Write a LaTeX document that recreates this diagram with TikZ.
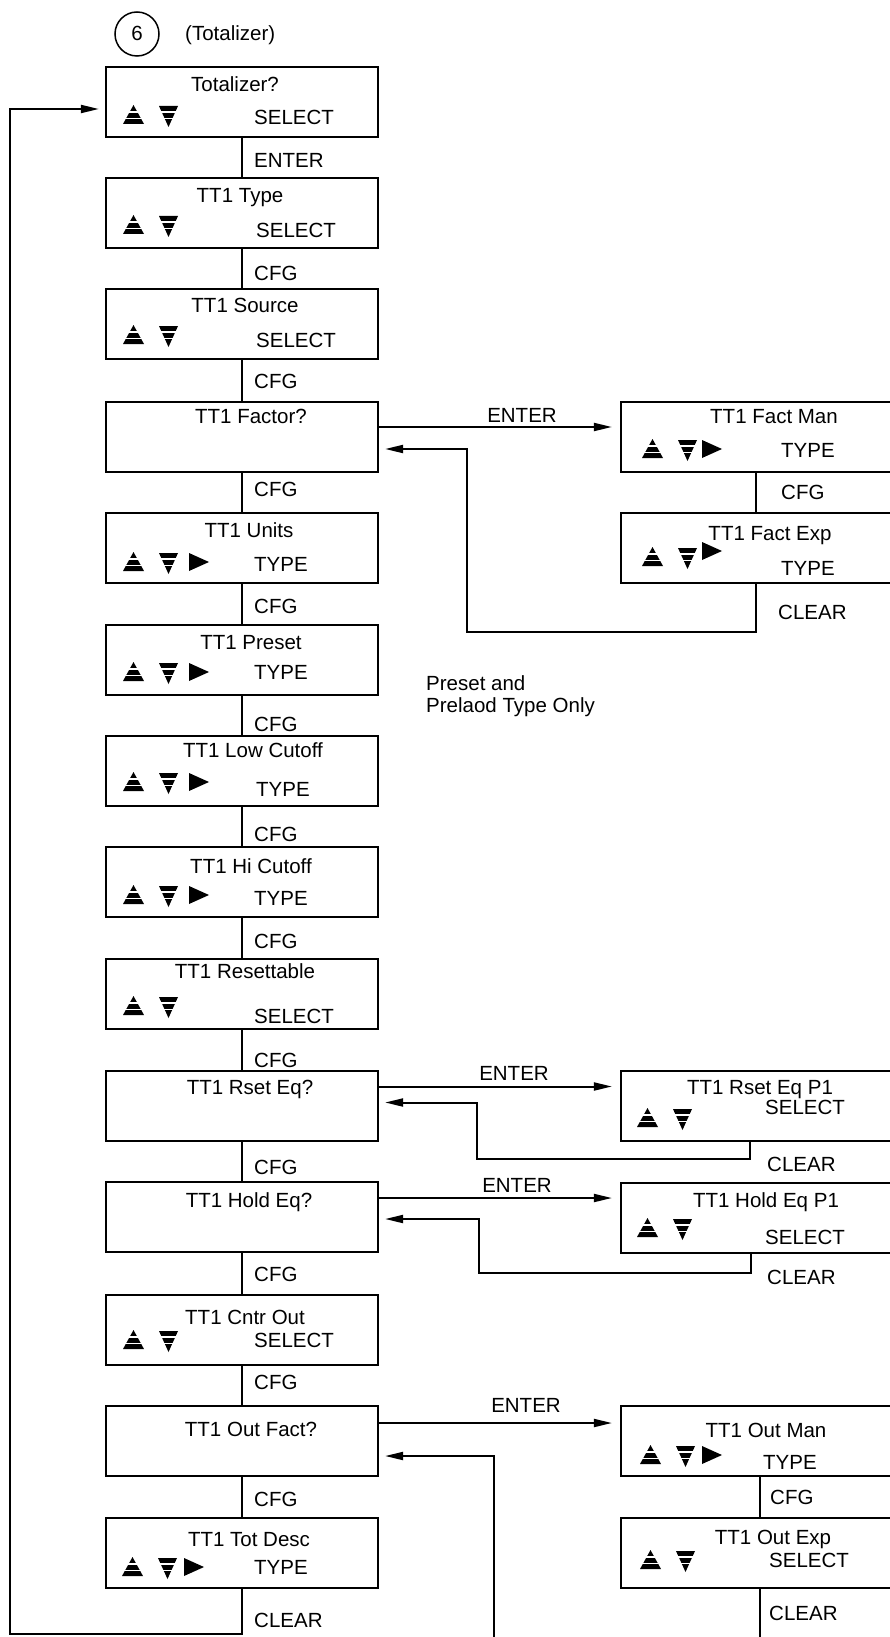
\documentclass[tikz,border=0pt]{standalone}
\usepackage{fontspec}
\setmainfont{Liberation Sans}
\usetikzlibrary{arrows.meta,calc}
\newcommand\updown[2]{%
  \begin{scope}[shift={(#1,#2)}]
    \fill (0,9) -- (21,9) -- (10.5,-10) -- cycle;
    \draw[white,line width=1.3pt] (0,-3) -- (21,-3) (0,3.5) -- (21,3.5);
    \fill (36,-9) -- (55,-9) -- (45.5,12) -- cycle;
    \draw[white,line width=1.3pt] (36,-3) -- (55,-3) (36,3.5) -- (55,3.5);
  \end{scope}}
\newcommand\playicon[2]{%
  \begin{scope}[shift={(#1,#2)}]
    \fill (66,-9) -- (66,9) -- (86,0) -- cycle;
  \end{scope}}
\begin{document}
\begin{tikzpicture}[x=1pt,y=-1pt,
  every node/.style={font=\fontsize{20.5}{24}\selectfont, inner sep=0pt, text height=14.7pt, text depth=0pt},
  box/.style={draw, line width=2.2pt, minimum width=272pt, minimum height=70pt},
  rbox/.style={draw, line width=2.2pt, minimum width=274pt, minimum height=70pt},
  conn/.style={line width=2pt},
  arr/.style={line width=2pt, -{Triangle[length=18pt,width=8pt]}, shorten >=6pt},
  lbl/.style={anchor=west}]
\useasboundingbox (0,0) rectangle (890,1637);
\clip (0,0) rectangle (890,1637);

% header
\node[draw, circle, line width=1.5pt, minimum size=44pt] (c6) at (137,34) {};
\node (six) at (137,33) {6};
\node[lbl] (hdr) at (185,33) {(Totalizer)};

% main column boxes
\node[box] (b1) at (242,102) {};
\node[box] (b2) at (242,213) {};
\node[box] (b3) at (242,324) {};
\node[box] (b4) at (242,437) {};
\node[box] (b5) at (242,548) {};
\node[box] (b6) at (242,660) {};
\node[box] (b7) at (242,771) {};
\node[box] (b8) at (242,882) {};
\node[box] (b9) at (242,994) {};
\node[box] (b10) at (242,1106) {};
\node[box] (b11) at (242,1217) {};
\node[box] (b12) at (242,1330) {};
\node[box] (b13) at (242,1441) {};
\node[box] (b14) at (242,1553) {};

% titles
\node (t1) at (235,84) {Totalizer?};
\node (t2) at (240,195) {TT1 Type};
\node (t3) at (245,305) {TT1 Source};
\node (t4) at (251,416) {TT1 Factor?};
\node (t5) at (249,530) {TT1 Units};
\node (t6) at (251,642) {TT1 Preset};
\node (t7) at (253,750) {TT1 Low Cutoff};
\node (t8) at (251,866) {TT1 Hi Cutoff};
\node (t9) at (245,971) {TT1 Resettable};
\node (t10) at (250,1087) {TT1 Rset Eq?};
\node (t11) at (249,1200) {TT1 Hold Eq?};
\node (t12) at (245,1317) {TT1 Cntr Out};
\node (t13) at (251,1429) {TT1 Out Fact?};
\node (t14) at (249,1539) {TT1 Tot Desc};

% bottom texts
\node[lbl] (s1) at (254,117) {SELECT};
\node[lbl] (s2) at (256,230) {SELECT};
\node[lbl] (s3) at (256,340) {SELECT};
\node[lbl] (s5) at (254,564) {TYPE};
\node[lbl] (s6) at (254,672) {TYPE};
\node[lbl] (s7) at (256,789) {TYPE};
\node[lbl] (s8) at (254,898) {TYPE};
\node[lbl] (s9) at (254,1016) {SELECT};
\node[lbl] (s12) at (254,1340) {SELECT};
\node[lbl] (s14) at (254,1567) {TYPE};

% icons
\updown{123}{115}
\updown{123}{225}
\updown{123}{335}
\updown{123}{562}\playicon{123}{562}
\updown{123}{672}\playicon{123}{672}
\updown{123}{782}\playicon{123}{782}
\updown{123}{895}\playicon{123}{895}
\updown{123}{1006}
\updown{123}{1340}
\updown{122}{1567}\playicon{118}{1567}

% main connectors
\foreach \a/\b in {b1/b2,b2/b3,b3/b4,b4/b5,b5/b6,b6/b7,b7/b8,b8/b9,b9/b10,b10/b11,b11/b12,b12/b13,b13/b14}
  \draw[conn] (\a.south) -- (\b.north);

% main labels
\node[lbl] (l1) at (254,160) {ENTER};
\node[lbl] (l2) at (254,273) {CFG};
\node[lbl] (l3) at (254,381) {CFG};
\node[lbl] (l4) at (254,489) {CFG};
\node[lbl] (l5) at (254,606) {CFG};
\node[lbl] (l6) at (254,724) {CFG};
\node[lbl] (l7) at (254,834) {CFG};
\node[lbl] (l8) at (254,941) {CFG};
\node[lbl] (l9) at (254,1060) {CFG};
\node[lbl] (l10) at (254,1167) {CFG};
\node[lbl] (l11) at (254,1274) {CFG};
\node[lbl] (l12) at (254,1382) {CFG};
\node[lbl] (l13) at (254,1499) {CFG};
\node[lbl] (l14) at (254,1620) {CLEAR};

% loop back to top
\coordinate (lpA) at (10,1634);
\coordinate (lpB) at (10,109);
\draw[arr] (b14.south) |- (lpA) -- (lpB) -- (lpB -| b1.west);

% note
\node[lbl] (n1) at (426,683) {Preset and};
\node[lbl] (n2) at (426,705) {Prelaod Type Only};

% right column boxes
\node[rbox] (fm) at (758,437) {};
\node[rbox] (fe) at (758,548) {};
\node[rbox] (rs) at (758,1106) {};
\node[rbox] (he) at (758,1218) {};
\node[rbox] (om) at (758,1441) {};
\node[rbox] (oe) at (758,1553) {};

\node (tfm) at (774,416) {TT1 Fact Man};
\node[lbl] (sfm) at (781,450) {TYPE};
\updown{642}{449}\playicon{636}{449}
\node (tfe) at (770,533) {TT1 Fact Exp};
\node[lbl] (sfe) at (781,568) {TYPE};
\updown{642}{557}\playicon{636}{551}
\node (trs) at (760,1087) {TT1 Rset Eq P1};
\node[lbl] (srs) at (765,1107) {SELECT};
\updown{637}{1118}
\node (the) at (766,1200) {TT1 Hold Eq P1};
\node[lbl] (she) at (765,1237) {SELECT};
\updown{637}{1228}
\node (tom) at (766,1430) {TT1 Out Man};
\node[lbl] (som) at (763,1462) {TYPE};
\updown{640}{1455}\playicon{636}{1455}
\node (toe) at (773,1537) {TT1 Out Exp};
\node[lbl] (soe) at (769,1560) {SELECT};
\updown{640}{1560}

% right connectors
\draw[conn] ([xshift=-2pt]fm.south) -- ([xshift=-2pt]fe.north);
\draw[conn] ([xshift=2pt]om.south) -- ([xshift=2pt]oe.north);
\node[lbl] (lfm) at (781,492) {CFG};
\node[lbl] (lfe) at (778,612) {CLEAR};
\node[lbl] (lrs) at (767,1164) {CLEAR};
\node[lbl] (lhe) at (767,1277) {CLEAR};
\node[lbl] (lom) at (770,1497) {CFG};
\node[lbl] (loe) at (769,1613) {CLEAR};

% ENTER arrows
\draw[arr, shorten >=8pt] ([yshift=10pt]b4.east) -- ([yshift=10pt]b4.east -| fm.west);
\draw[arr, shorten >=8pt] ([yshift=19.5pt]b10.east) -- ([yshift=19.5pt]b10.east -| rs.west);
\draw[arr, shorten >=8pt] ([yshift=19pt]b11.east) -- ([yshift=19pt]b11.east -| he.west);
\draw[arr, shorten >=8pt] ([yshift=18pt]b13.east) -- ([yshift=18pt]b13.east -| om.west);
\node (e4) at (522,415) {ENTER};
\node (e10) at (514,1073) {ENTER};
\node (e11) at (517,1185) {ENTER};
\node (e13) at (526,1405) {ENTER};

% return arrows
\draw[arr] ([xshift=-2pt]fe.south) |- (467,632) |- ([yshift=-12pt]b4.east);
\draw[arr] ([xshift=-8pt]rs.south) |- (477,1159) |- ([yshift=3.5pt]b10.east);
\draw[arr] ([xshift=-7pt]he.south) |- (479,1273) |- ([yshift=-2pt]b11.east);
\draw[arr] ([xshift=2pt]oe.south) |- (494,1660) |- ([yshift=-15pt]b13.east);
\end{tikzpicture}
\end{document}
